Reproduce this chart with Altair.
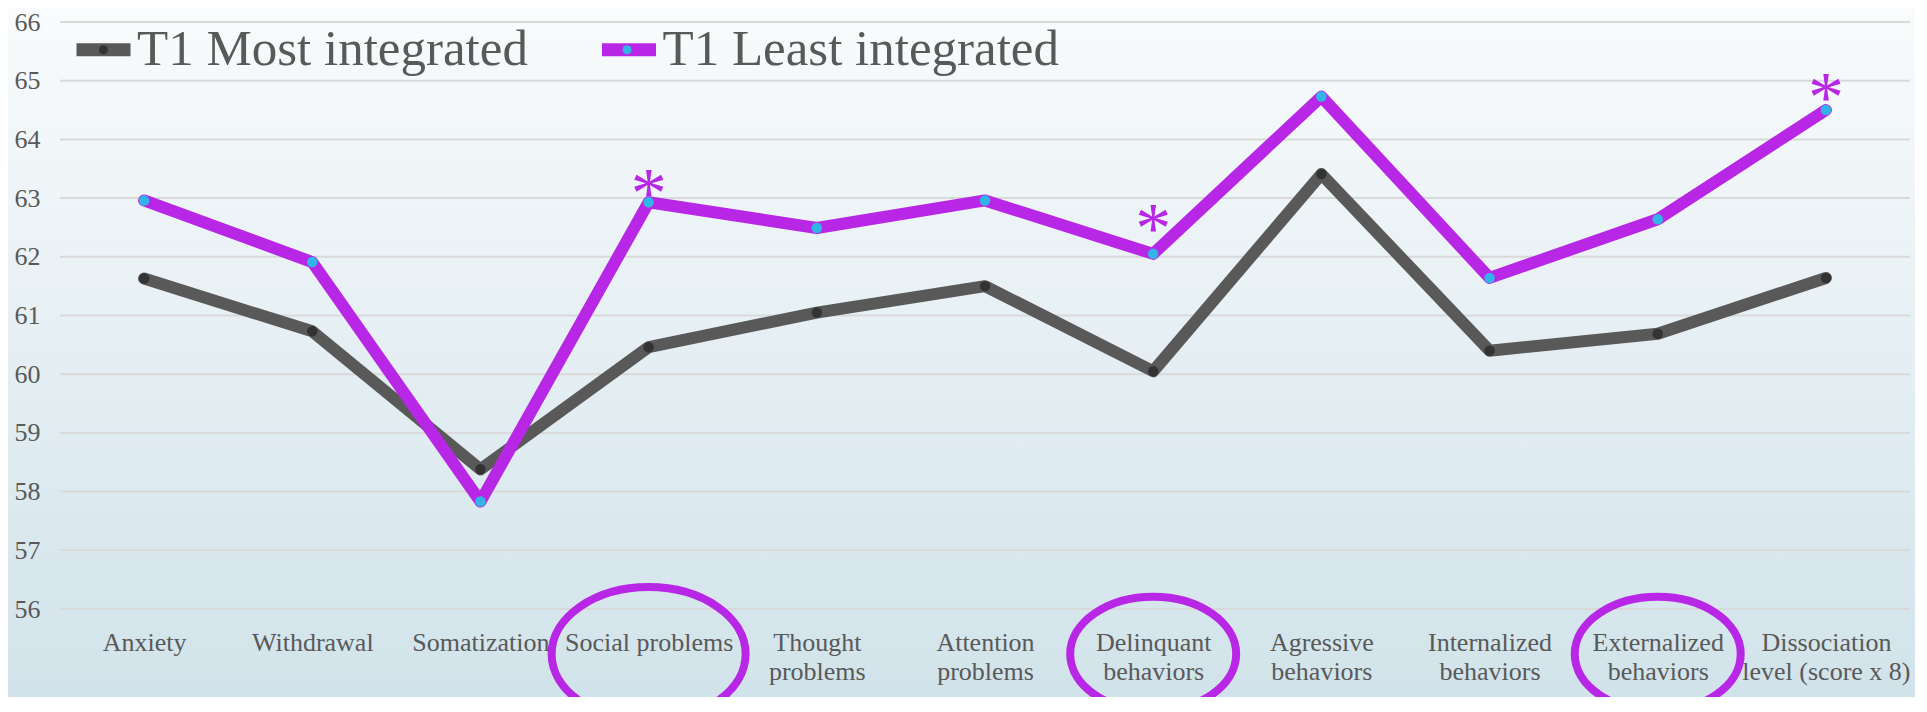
import altair as alt
import pandas as pd

# ---- data ----
categories = [
    "Anxiety", "Withdrawal", "Somatization", "Social problems",
    "Thought\nproblems", "Attention\nproblems", "Delinquant\nbehaviors",
    "Agressive\nbehaviors", "Internalized\nbehaviors", "Externalized\nbehaviors",
    "Dissociation\nlevel (score x 8)",
]
series_names = ["T1 Most integrated", "T1 Least integrated"]
most_integrated = [61.63, 60.73, 58.38, 60.46, 61.05, 61.50, 60.05, 63.41, 60.40, 60.69, 61.64]
least_integrated = [62.96, 61.91, 57.83, 62.93, 62.49, 62.96, 62.05, 64.73, 61.64, 62.64, 64.50]
starred = ["Social problems", "Delinquant\nbehaviors", "Dissociation\nlevel (score x 8)"]
star_level = [63.29, 62.69, 64.92]
circled = ["Social problems", "Delinquant\nbehaviors", "Externalized\nbehaviors"]
y_ticks = list(range(56, 67))

GRAY = "#595959"
PURPLE = "#b827e6"
CYAN = "#32b4e6"
DOT = "#333333"
FONT = "Liberation Serif"

rows = []
for c, v in zip(categories, most_integrated):
    rows.append({"category": c, "value": v, "series": series_names[0], "series_dot": series_names[0]})
for c, v in zip(categories, least_integrated):
    rows.append({"category": c, "value": v, "series": series_names[1], "series_dot": series_names[1]})
df = pd.DataFrame(rows)
stars = pd.DataFrame({"category": starred, "value": star_level})
circ = pd.DataFrame({"category": circled})
ticks_df = pd.DataFrame({"value": y_ticks})

W, H = 1850, 587
PAD = {"left": 52, "top": 14, "right": 5, "bottom": 88}

x_enc = alt.X(
    "category:N",
    sort=categories,
    scale=alt.Scale(domain=categories, type="point", padding=0.5),
    axis=alt.Axis(
        title=None, labelExpr="split(datum.value, '\\n')", labelFont=FONT,
        labelFontSize=26, labelColor=GRAY, labelPadding=20, ticks=False,
        domain=False, labelAngle=0, labelLimit=400, labelOverlap=False,
        labelLineHeight=29, grid=False, zindex=1,
    ),
)
y_scale = alt.Scale(domain=[56, 66], nice=False, zero=False)
y_enc = alt.Y(
    "value:Q", scale=y_scale,
    axis=alt.Axis(
        title=None, values=y_ticks, format="d", labelFont=FONT, labelFontSize=26,
        labelColor=GRAY, grid=False, ticks=False,
        domain=False, labelPadding=20, zindex=1,
    ),
)

bg = alt.Chart(alt.Data(values=[{"k": 0}])).mark_rect(
    color=alt.Gradient(
        gradient="linear", x1=0, x2=0, y1=0, y2=1,
        stops=[alt.GradientStop(color="#f9fbfc", offset=0),
               alt.GradientStop(color="#d1e3ea", offset=1)],
    )
).encode(
    x=alt.value(-PAD["left"]), x2=alt.value(W + PAD["right"]),
    y=alt.value(-PAD["top"]), y2=alt.value(H + PAD["bottom"]),
)

gridlines = alt.Chart(ticks_df).mark_rule(color="#d9d9d9", strokeWidth=2).encode(y=y_enc)

axes_layer = alt.Chart(df).mark_line(opacity=0).encode(x=x_enc, y=alt.Y("value:Q"))

lines = alt.Chart(df).mark_line(strokeWidth=12, strokeCap="round", strokeJoin="round").encode(
    x=alt.X("category:N", sort=categories),
    y=alt.Y("value:Q"),
    color=alt.Color(
        "series:N",
        scale=alt.Scale(domain=series_names, range=[GRAY, PURPLE]),
        legend=alt.Legend(
            title=None, orient="none", direction="horizontal", legendX=10, legendY=-6,
            symbolType="stroke", symbolSize=2916, symbolStrokeWidth=13,
            labelFont=FONT, labelFontSize=51, labelColor=GRAY, labelOffset=0,
            columnPadding=47.5, padding=0, labelLimit=600,
        ),
    ),
    order=alt.Order("series:N"),
)

points = alt.Chart(df).mark_point(filled=True, size=110, opacity=1).encode(
    x=alt.X("category:N", sort=categories),
    y=alt.Y("value:Q"),
    fill=alt.Fill(
        "series_dot:N",
        scale=alt.Scale(domain=series_names, range=[DOT, CYAN]),
        legend=alt.Legend(
            title=None, orient="none", direction="horizontal", legendX=18, legendY=2,
            symbolType="circle", symbolSize=80, symbolStrokeWidth=0,
            labelFont=FONT, labelFontSize=51, labelOffset=0, labelExpr="''",
            columnPadding=472.5, padding=0,
        ),
    ),
)

star_text = alt.Chart(stars).mark_text(
    text="*", font=FONT, fontSize=72, color=PURPLE, baseline="middle", dy=14
).encode(
    x=alt.X("category:N", sort=categories),
    y=alt.Y("value:Q"),
)

k = 0.5523
ry = 0.69
ellipse_path = (
    f"M -1 0 C -1 {-k*ry:.4f} {-k:.4f} {-ry} 0 {-ry} "
    f"C {k:.4f} {-ry} 1 {-k*ry:.4f} 1 0 "
    f"C 1 {k*ry:.4f} {k:.4f} {ry} 0 {ry} "
    f"C {-k:.4f} {ry} -1 {k*ry:.4f} -1 0 Z"
)
ellipses = alt.Chart(circ).mark_point(
    shape=ellipse_path, filled=False, strokeWidth=8, color=PURPLE, opacity=1
).encode(
    x=alt.X("category:N", sort=categories),
    y=alt.value(632),
    size=alt.condition(alt.datum.category == "Social problems", alt.value(194 * 194), alt.value(166 * 166)),
)

chart = alt.layer(bg, gridlines, axes_layer, lines, points, star_text, ellipses).resolve_scale(
    color="independent", fill="independent"
).properties(
    width=W, height=H, padding=PAD, autosize=alt.AutoSizeParams(type="none"),
).configure_view(stroke=None).configure(background="#f9fbfc")

chart.save("out.html", embed_options={"renderer": "svg", "actions": False})
